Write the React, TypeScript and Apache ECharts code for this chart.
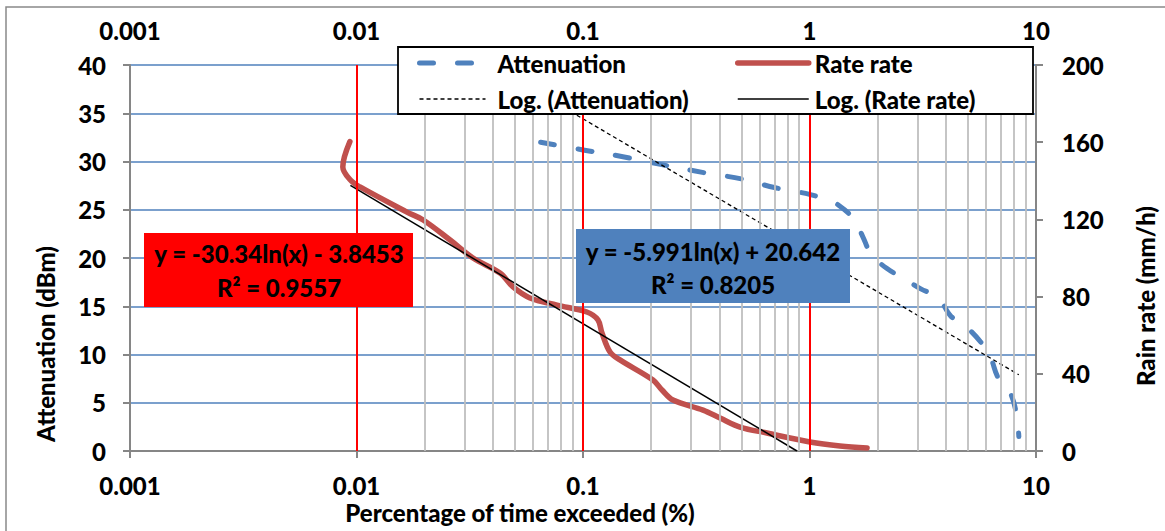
import React, { useEffect, useRef } from 'react';
import * as echarts from 'echarts';

// ---- data ----
const attenuationX = [0.065, 0.1, 0.15, 0.22, 0.35, 0.5, 0.7, 1.0, 1.2, 1.34, 1.56, 1.72, 1.87, 2.2, 2.6, 3.1, 3.7, 4.2, 4.9, 5.7, 6.3, 6.8, 7.7, 8.2, 8.4];
const attenuationY = [32.0, 31.2, 30.5, 29.7, 28.8, 28.2, 27.3, 26.6, 26.0, 25.5, 24.1, 22.2, 20.4, 18.9, 17.9, 16.8, 15.9, 14.0, 12.9, 11.3, 9.7, 7.6, 6.0, 3.8, 1.5];

const rainX = [0.00935, 0.0087, 0.0094, 0.01036, 0.0167, 0.0197, 0.0259, 0.0327, 0.043, 0.0491, 0.0583, 0.0768, 0.104, 0.1164, 0.1213, 0.1316, 0.1456, 0.2037, 0.2233, 0.2496, 0.3388, 0.4027, 0.4934, 0.6486, 1.004, 1.364, 1.795];
const rainY = [160.3, 147.2, 140.4, 136.8, 123.8, 119.7, 109.3, 100.0, 92.2, 85.0, 79.3, 75.6, 72.0, 67.9, 61.1, 51.3, 47.2, 36.8, 31.6, 26.4, 21.2, 17.1, 12.4, 9.3, 4.7, 2.6, 1.55];

const attTrendX = [0.065, 8.4];
const attTrendY = [37.0, 7.9];
const rainTrendX = [0.0094, 0.88];
const rainTrendY = [137.6, 0];

const xTickLabels = ['0.001', '0.01', '0.1', '1', '10'];
const minorGridValues = [
  0.002, 0.003, 0.004, 0.005, 0.006, 0.007, 0.008, 0.009,
  0.02, 0.03, 0.04, 0.05, 0.06, 0.07, 0.08, 0.09,
  0.2, 0.3, 0.4, 0.5, 0.6, 0.7, 0.8, 0.9,
  2, 3, 4, 5, 6, 7, 8, 9,
];
const decadeGridValues = [0.01, 0.1, 1];

const seriesNames = ['Attenuation', 'Rate rate', 'Log. (Attenuation)', 'Log. (Rate rate)'];
const attEquation = ['y = -5.991ln(x) + 20.642', 'R² = 0.8205'];
const rainEquation = ['y = -30.34ln(x) - 3.8453', 'R² = 0.9557'];
const axisTitles = {
  x: 'Percentage of time exceeded (%)',
  yLeft: 'Attenuation (dBm)',
  yRight: 'Rain rate (mm/h)',
};

const FONT = 'Lato, "Open Sans", "DejaVu Sans", sans-serif';
const FS = 24;
const FW = 900;
const AXIS_GRAY = '#868686';

const pairs = (xs: number[], ys: number[]) => xs.map((x, i) => [x, ys[i]]);

const fmtX = (v: number) => {
  const e = Math.round(Math.log10(v));
  return xTickLabels[e + 3] ?? String(v);
};

const labelStyle = {
  color: '#000',
  fontFamily: FONT,
  fontWeight: FW,
  fontSize: FS,
};

const hiddenSymbol = { color: 'rgba(0,0,0,0)', borderColor: 'rgba(0,0,0,0)', borderWidth: 0, opacity: 0 };

export default function App() {
  const ref = useRef<HTMLDivElement>(null);

  useEffect(() => {
    document.body.style.margin = '0';
    if (!ref.current) return;
    const chart = echarts.init(ref.current, undefined, { renderer: 'svg' });

    const xAxisBase = {
      type: 'log' as const,
      logBase: 10,
      min: 0.001,
      max: 10,
      gridIndex: 0,
      axisLine: { show: true, lineStyle: { color: AXIS_GRAY, width: 2 } },
      axisTick: { show: true, length: 7, lineStyle: { color: AXIS_GRAY, width: 2 } },
      splitLine: { show: false },
      minorTick: { show: false },
      minorSplitLine: { show: false },
    };

    const legendCommon = {
      orient: 'vertical' as const,
      top: 45,
      itemHeight: 26,
      itemGap: 10,
      selectedMode: false,
      z: 60,
      itemStyle: hiddenSymbol,
    };

    chart.setOption({
      animation: false,
      backgroundColor: '#fff',
      grid: { left: 130, right: 129, top: 65, bottom: 80, containLabel: false },
      xAxis: [
        {
          ...xAxisBase,
          position: 'bottom',
          axisLabel: { ...labelStyle, margin: 22, formatter: fmtX },
        },
        {
          ...xAxisBase,
          position: 'top',
          axisLabel: { ...labelStyle, margin: 23, formatter: fmtX },
        },
      ],
      yAxis: [
        {
          type: 'value',
          position: 'left',
          min: 0,
          max: 40,
          interval: 5,
          axisLine: { show: true, lineStyle: { color: AXIS_GRAY, width: 2 } },
          axisTick: { show: true, length: 7, lineStyle: { color: AXIS_GRAY, width: 2 } },
          splitLine: { show: true, lineStyle: { color: '#4f81bd', width: 1.5 } },
          axisLabel: { ...labelStyle, margin: 24 },
        },
        {
          type: 'value',
          position: 'right',
          min: 0,
          max: 200,
          interval: 40,
          axisLine: { show: true, lineStyle: { color: AXIS_GRAY, width: 2 } },
          axisTick: { show: true, length: 7, lineStyle: { color: AXIS_GRAY, width: 2 } },
          splitLine: { show: false },
          axisLabel: { ...labelStyle, margin: 26 },
        },
      ],
      legend: [
        {
          ...legendCommon,
          left: 412,
          itemWidth: 66,
          textStyle: { ...labelStyle, lineHeight: 26, padding: [0, 0, 0, 7] },
          data: [
            { name: seriesNames[0], lineStyle: { width: 5 }, itemStyle: hiddenSymbol },
            { name: seriesNames[2], lineStyle: { width: 1.3 }, itemStyle: hiddenSymbol },
          ],
        },
        {
          ...legendCommon,
          left: 730,
          itemWidth: 71,
          textStyle: { ...labelStyle, lineHeight: 26, padding: [0, 0, 0, 1] },
          data: [
            { name: seriesNames[1], lineStyle: { width: 5.5 }, itemStyle: hiddenSymbol },
            { name: seriesNames[3], lineStyle: { width: 1.5 }, itemStyle: hiddenSymbol },
          ],
        },
      ],
      series: [
        {
          name: 'minor-grid',
          type: 'line',
          data: [],
          z: 1,
          silent: true,
          markLine: {
            silent: true,
            symbol: ['none', 'none'],
            label: { show: false },
            lineStyle: { color: '#bfbfbf', width: 1.8, type: 'solid' },
            data: minorGridValues.map((v) => ({ xAxis: v })),
          },
        },
        {
          name: 'decade-grid',
          type: 'line',
          data: [],
          z: 1,
          silent: true,
          markLine: {
            silent: true,
            symbol: ['none', 'none'],
            label: { show: false },
            lineStyle: { color: '#ff0000', width: 2, type: 'solid' },
            data: decadeGridValues.map((v) => ({ xAxis: v })),
          },
        },
        {
          name: seriesNames[0],
          type: 'line',
          xAxisIndex: 0,
          yAxisIndex: 0,
          data: pairs(attenuationX, attenuationY),
          smooth: 0.35,
          symbol: 'none',
          z: 3,
          itemStyle: { color: '#4f81bd' },
          lineStyle: { color: '#4f81bd', width: 5, type: [14, 24], cap: 'round', join: 'round' },
        },
        {
          name: seriesNames[1],
          type: 'line',
          xAxisIndex: 0,
          yAxisIndex: 1,
          data: pairs(rainX, rainY),
          smooth: 0.35,
          symbol: 'none',
          z: 3,
          itemStyle: { color: '#c0504d' },
          lineStyle: { color: '#c0504d', width: 5.5, cap: 'round', join: 'round' },
        },
        {
          name: seriesNames[2],
          type: 'line',
          xAxisIndex: 0,
          yAxisIndex: 0,
          data: pairs(attTrendX, attTrendY),
          symbol: 'none',
          z: 4,
          itemStyle: { color: '#000' },
          lineStyle: { color: '#000', width: 1.3, type: [4, 3] },
        },
        {
          name: seriesNames[3],
          type: 'line',
          xAxisIndex: 0,
          yAxisIndex: 1,
          data: pairs(rainTrendX, rainTrendY),
          symbol: 'none',
          z: 4,
          itemStyle: { color: '#000' },
          lineStyle: { color: '#000', width: 1.5, type: 'solid' },
        },
      ],
      graphic: {
        elements: [
          {
            type: 'rect',
            z: 100,
            silent: true,
            shape: { x: 6, y: 7, width: 1300, height: 700 },
            style: { fill: 'none', stroke: '#898989', lineWidth: 1.5 },
          },
          {
            type: 'rect',
            z: 50,
            silent: true,
            shape: { x: 398, y: 47, width: 635, height: 67 },
            style: { fill: '#fff', stroke: '#000', lineWidth: 1.8 },
          },
          {
            type: 'rect',
            z: 50,
            silent: true,
            shape: { x: 144, y: 233, width: 269, height: 74 },
            style: { fill: '#ff0000' },
          },
          {
            type: 'text',
            z: 51,
            silent: true,
            x: 279,
            y: 270,
            style: {
              text: rainEquation.join('\n'),
              align: 'center',
              verticalAlign: 'middle',
              lineHeight: 34,
              fill: '#000',
              font: `${FW} ${FS}px ${FONT}`,
            },
          },
          {
            type: 'rect',
            z: 50,
            silent: true,
            shape: { x: 576, y: 229, width: 274, height: 74 },
            style: { fill: '#4f81bd' },
          },
          {
            type: 'text',
            z: 51,
            silent: true,
            x: 713,
            y: 268,
            style: {
              text: attEquation.join('\n'),
              align: 'center',
              verticalAlign: 'middle',
              lineHeight: 33,
              fill: '#000',
              font: `${FW} ${FS}px ${FONT}`,
            },
          },
          {
            type: 'text',
            z: 51,
            silent: true,
            x: 520,
            y: 512,
            style: {
              text: axisTitles.x,
              align: 'center',
              verticalAlign: 'middle',
              fill: '#000',
              font: `${FW} ${FS}px ${FONT}`,
            },
          },
          {
            type: 'text',
            z: 51,
            silent: true,
            x: 45,
            y: 344,
            rotation: Math.PI / 2,
            style: {
              text: axisTitles.yLeft,
              align: 'center',
              verticalAlign: 'middle',
              fill: '#000',
              font: `${FW} ${FS}px ${FONT}`,
            },
          },
          {
            type: 'text',
            z: 51,
            silent: true,
            x: 1145,
            y: 296,
            rotation: Math.PI / 2,
            style: {
              text: axisTitles.yRight,
              align: 'center',
              verticalAlign: 'middle',
              fill: '#000',
              font: `${FW} ${FS}px ${FONT}`,
            },
          },
        ],
      },
    });

    return () => chart.dispose();
  }, []);

  return <div ref={ref} style={{ width: 1165, height: 531 }} />;
}
